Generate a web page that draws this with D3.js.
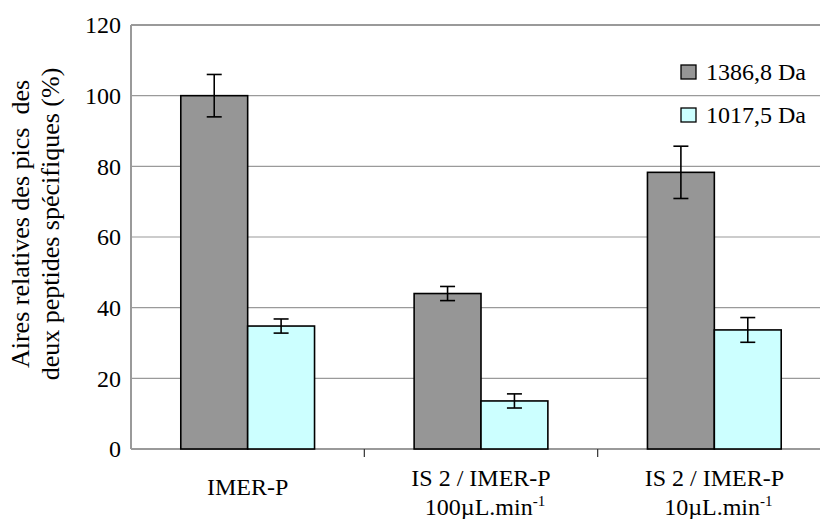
<!DOCTYPE html>
<html>
<head>
<meta charset="utf-8">
<script src="https://cdn.jsdelivr.net/npm/d3@7"></script>
<style>
  html, body { margin: 0; padding: 0; background: #fff; }
  svg { display: block; }
  text { font-family: "Liberation Serif", "Times New Roman", serif; fill: #000; }
</style>
</head>
<body>
<svg id="chart" width="820" height="519"></svg>
<script>
// ---- data ----
const categories = ["IMER-P", "IS 2 / IMER-P|100µL.min", "IS 2 / IMER-P|10µL.min"];
const categoryLines = [["IMER-P"], ["IS 2 / IMER-P", "100µL.min"], ["IS 2 / IMER-P", "10µL.min"]];
const categorySup = [null, "-1", "-1"];
const seriesNames = ["1386,8 Da", "1017,5 Da"];
const seriesColors = ["#969696", "#ccffff"];
const values1386 = [100, 44, 78.3];
const errors1386 = [6, 2, 7.4];
const values1017 = [34.8, 13.6, 33.7];
const errors1017 = [2, 2, 3.5];
const yTicks = [0, 20, 40, 60, 80, 100, 120];
const yTitle = ["Aires relatives des pics  des", "deux peptides spécifiques (%)"];

// ---- layout ----
const svg = d3.select("#chart");
const plot = { left: 131, right: 831, top: 25, bottom: 449 };

const x = d3.scaleBand().domain(categories).range([plot.left, plot.right]).paddingInner(0).paddingOuter(0);
const y = d3.scaleLinear().domain([0, 120]).range([plot.bottom, plot.top]);

// bars of ~67px each, ~50px gap on both sides
const barW = x.bandwidth() * 0.2866;
const gap = (x.bandwidth() - 2 * barW) / 2;

// gridlines
svg.append("g").selectAll("line").data(yTicks.filter(t => t > 0 && t < 120)).join("line")
  .attr("x1", plot.left).attr("x2", plot.right)
  .attr("y1", d => y(d)).attr("y2", d => y(d))
  .attr("stroke", "#9a9a9a").attr("stroke-width", 1.2);

// plot frame (top, left, bottom)
svg.append("line").attr("x1", plot.left).attr("x2", plot.right).attr("y1", y(120)).attr("y2", y(120))
  .attr("stroke", "#9a9a9a").attr("stroke-width", 2);
svg.append("line").attr("x1", plot.left).attr("x2", plot.left).attr("y1", y(120)).attr("y2", y(0))
  .attr("stroke", "#9a9a9a").attr("stroke-width", 2);
svg.append("line").attr("x1", plot.left).attr("x2", plot.right).attr("y1", y(0)).attr("y2", y(0))
  .attr("stroke", "#9a9a9a").attr("stroke-width", 2);

// y tick labels
svg.append("g").selectAll("text").data(yTicks).join("text")
  .attr("x", 121).attr("y", d => y(d)).attr("dy", "0.35em")
  .attr("text-anchor", "end").style("font-size", "24px")
  .text(d => d);

// category ticks
svg.append("g").selectAll("line").data(categories.slice(1)).join("line")
  .attr("x1", d => x(d)).attr("x2", d => x(d))
  .attr("y1", y(0)).attr("y2", y(0) + 8)
  .attr("stroke", "#333").attr("stroke-width", 1.2);

// bars
const series = [
  { vals: values1386, errs: errors1386, color: seriesColors[0] },
  { vals: values1017, errs: errors1017, color: seriesColors[1] }
];
series.forEach((s, si) => {
  const g = svg.append("g");
  g.selectAll("rect").data(categories).join("rect")
    .attr("x", d => x(d) + gap + si * barW)
    .attr("y", (d, i) => y(s.vals[i]))
    .attr("width", barW)
    .attr("height", (d, i) => y(0) - y(s.vals[i]))
    .attr("fill", s.color).attr("stroke", "#000").attr("stroke-width", 1.6);
});
// error bars
series.forEach((s, si) => {
  const g = svg.append("g").attr("stroke", "#000").attr("stroke-width", 1.6);
  categories.forEach((c, i) => {
    const cx = x(c) + gap + si * barW + barW / 2;
    const hi = y(s.vals[i] + s.errs[i]), lo = y(s.vals[i] - s.errs[i]);
    g.append("line").attr("x1", cx).attr("x2", cx).attr("y1", hi).attr("y2", lo);
    g.append("line").attr("x1", cx - 7.5).attr("x2", cx + 7.5).attr("y1", hi).attr("y2", hi);
    g.append("line").attr("x1", cx - 7.5).attr("x2", cx + 7.5).attr("y1", lo).attr("y2", lo);
  });
});

// category labels
categories.forEach((c, i) => {
  const cx = x(c) + x.bandwidth() / 2;
  const lines = categoryLines[i];
  if (lines.length === 1) {
    svg.append("text").attr("x", cx).attr("y", 495).attr("text-anchor", "middle")
      .style("font-size", "24px").text(lines[0]);
  } else {
    svg.append("text").attr("x", cx).attr("y", 486).attr("text-anchor", "middle")
      .style("font-size", "24px").text(lines[0]);
    const t = svg.append("text").attr("x", cx + 4).attr("y", 515).attr("text-anchor", "middle")
      .style("font-size", "24px");
    t.append("tspan").text(lines[1]);
    t.append("tspan").attr("dy", -9).style("font-size", "15px").text(categorySup[i]);
  }
});

// y title
const yt = svg.append("text").attr("transform", "translate(0,224) rotate(-90)")
  .attr("text-anchor", "middle").style("font-size", "26px").style("white-space", "pre")
  .attr("xml:space", "preserve");
yTitle.forEach((l, i) => {
  yt.append("tspan").attr("x", 0).attr("y", 28.5 + i * 30).text(l);
});

// legend
const leg = svg.append("g");
seriesNames.forEach((n, i) => {
  const ly = 72 + i * 43;
  leg.append("rect").attr("x", 681).attr("y", ly - 7).attr("width", 15).attr("height", 14)
    .attr("fill", seriesColors[i]).attr("stroke", "#000").attr("stroke-width", 1.3);
  leg.append("text").attr("x", 706).attr("y", ly + 8).style("font-size", "24px").text(n);
});
</script>
</body>
</html>
